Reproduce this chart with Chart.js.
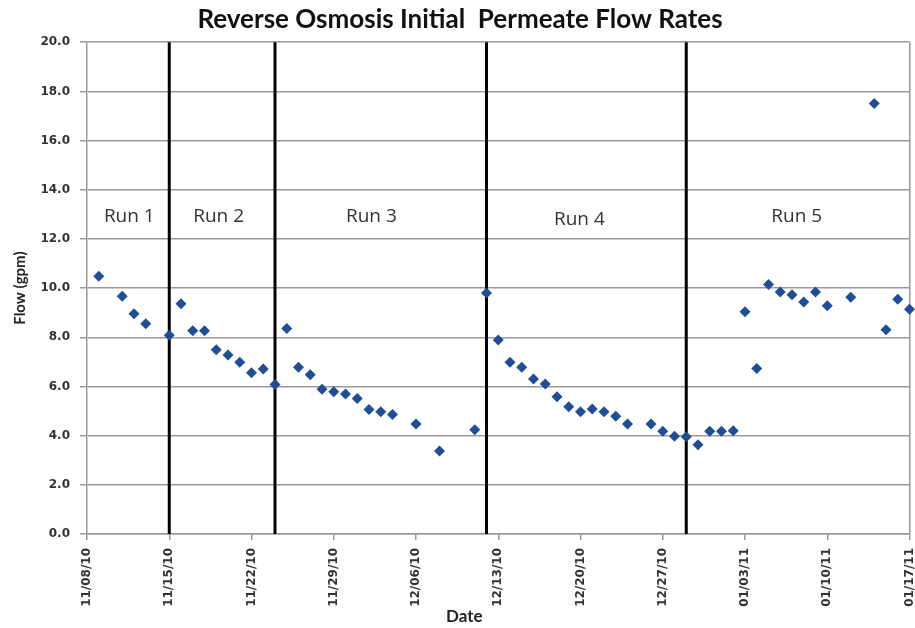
<!DOCTYPE html>
<html>
<head>
<meta charset="utf-8">
<script src="https://cdn.jsdelivr.net/npm/chart.js@4/dist/chart.umd.min.js"></script>
<style>
  html, body { margin: 0; padding: 0; background: #fff; }
  #wrap { width: 915px; height: 628px; position: relative; }
</style>
</head>
<body>
<div id="wrap"><canvas id="flowChart"></canvas></div>
<script>
// meetdatums (mm/dd/yy) en de bijbehorende flow in gpm
const sampleDates = [
  '11/09/10', '11/11/10', '11/12/10', '11/13/10', '11/15/10', '11/16/10', '11/17/10', '11/18/10',
  '11/19/10', '11/20/10', '11/21/10', '11/22/10', '11/23/10', '11/24/10', '11/25/10', '11/26/10',
  '11/27/10', '11/28/10', '11/29/10', '11/30/10', '12/01/10', '12/02/10', '12/03/10', '12/04/10',
  '12/06/10', '12/08/10', '12/11/10', '12/12/10', '12/13/10', '12/14/10', '12/15/10', '12/16/10',
  '12/17/10', '12/18/10', '12/19/10', '12/20/10', '12/21/10', '12/22/10', '12/23/10', '12/24/10',
  '12/26/10', '12/27/10', '12/28/10', '12/29/10', '12/30/10', '12/31/10', '01/01/11', '01/02/11',
  '01/03/11', '01/04/11', '01/05/11', '01/06/11', '01/07/11', '01/08/11', '01/09/11', '01/10/11',
  '01/12/11', '01/14/11', '01/15/11', '01/16/11', '01/17/11'
];
const flowValues = [
  10.48, 9.67, 8.96, 8.55, 8.08, 9.36, 8.27, 8.27,
  7.49, 7.28, 6.98, 6.56, 6.71, 6.08, 8.36, 6.78,
  6.48, 5.89, 5.78, 5.69, 5.51, 5.06, 4.97, 4.86,
  4.47, 3.38, 4.24, 9.80, 7.89, 6.98, 6.78, 6.30,
  6.10, 5.58, 5.17, 4.97, 5.08, 4.97, 4.79, 4.47,
  4.47, 4.18, 3.98, 3.95, 3.63, 4.18, 4.18, 4.20,
  9.04, 6.73, 10.15, 9.84, 9.73, 9.43, 9.84, 9.28,
  9.63, 17.51, 8.31, 9.55, 9.14
];

// de as-labels en de grenzen tussen de runs
const tickLabels = ['11/08/10', '11/15/10', '11/22/10', '11/29/10', '12/06/10', '12/13/10',
  '12/20/10', '12/27/10', '01/03/11', '01/10/11', '01/17/11'];
const runBoundaryDates = ['11/15/10', '11/24/10', '12/12/10', '12/29/10'];
const runNames = ['Run 1', 'Run 2', 'Run 3', 'Run 4', 'Run 5'];
const runLabelDays = [3.6, 11.2, 24.2, 41.9, 60.4];
const runLabelFlow = [12.9, 12.9, 12.9, 12.8, 12.9];
const yTicks = [0, 2, 4, 6, 8, 10, 12, 14, 16, 18, 20];

// Zet een datum om naar het aantal dagen sinds de eerste as-label
function dayNumber(str) {
  const p = str.split('/');
  const t = Date.UTC(2000 + Number(p[2]), Number(p[0]) - 1, Number(p[1]));
  const p0 = tickLabels[0].split('/');
  const t0 = Date.UTC(2000 + Number(p0[2]), Number(p0[0]) - 1, Number(p0[1]));
  return Math.round((t - t0) / 86400000);
}

const points = sampleDates.map((d, i) => ({ x: dayNumber(d), y: flowValues[i] }));

// Verticale zwarte lijnen tussen de runs
const boundarySets = runBoundaryDates.map(d => ({
  type: 'line',
  data: [{ x: dayNumber(d), y: yTicks[0] }, { x: dayNumber(d), y: yTicks[yTicks.length - 1] }],
  borderColor: '#000',
  borderWidth: 3,
  pointRadius: 0,
  clip: false
}));

// Plugin dat de run-namen en de titel van de x-as tekent
const runLabelPlugin = {
  id: 'runLabels',
  afterDatasetsDraw(chart) {
    const c = chart.ctx;
    const xs = chart.scales.x, ys = chart.scales.y;
    c.save();
    c.font = '19px "Open Sans", sans-serif';
    c.fillStyle = '#333';
    c.textAlign = 'center';
    c.textBaseline = 'middle';
    runNames.forEach((name, i) => {
      c.fillText(name, xs.getPixelForValue(runLabelDays[i]), ys.getPixelForValue(runLabelFlow[i]));
    });
    // x-as titel staat in het origineel iets links van het midden
    c.font = 'bold 17px Lato, sans-serif';
    c.fillStyle = '#222';
    const area = chart.chartArea;
    c.fillText('Date', (area.left + area.right) / 2 - 34, chart.height - 11);
    c.restore();
  }
};

const ctx = document.getElementById('flowChart');

new Chart(ctx, {
  data: {
    datasets: [{
      type: 'scatter',
      label: 'Flow',
      data: points,
      pointStyle: 'rectRot',
      pointRadius: 5.5,
      pointHoverRadius: 5.5,
      backgroundColor: '#1F4E96',
      borderColor: '#1F4E96',
      borderWidth: 0,
      clip: false
    }, ...boundarySets]
  },
  options: {
    responsive: true,
    maintainAspectRatio: false,
    animation: false,
    layout: { padding: { left: 8, right: 3, top: 0, bottom: 2 } },
    plugins: {
      legend: { display: false },
      tooltip: { enabled: false },
      title: {
        display: true,
        text: 'Reverse Osmosis Initial  Permeate Flow Rates',
        color: '#111',
        font: { family: 'Lato', size: 26, weight: 'bold' },
        padding: { top: 4, bottom: 7 }
      }
    },
    scales: {
      x: {
        type: 'linear',
        min: 0,
        max: 70,
        afterBuildTicks(axis) {
          axis.ticks = tickLabels.map(l => ({ value: dayNumber(l) }));
        },
        afterFit(axis) {
          axis.height = 92;
          axis.paddingLeft = 0;
          axis.paddingRight = 0;
        },
        ticks: {
          autoSkip: false,
          maxRotation: 90,
          minRotation: 90,
          padding: 8,
          color: '#333',
          font: { family: 'DejaVu Sans', size: 12, weight: 'bold' },
          callback: (v, i) => tickLabels[i]
        },
        grid: {
          color: c => (c.tick && c.tick.value === 70 ? '#999' : 'rgba(0,0,0,0)'),
          tickColor: '#999',
          tickLength: 6,
          lineWidth: 1.5
        },
        border: { color: '#999', width: 1.5 }
      },
      y: {
        min: 0,
        max: 20,
        afterBuildTicks(axis) {
          axis.ticks = yTicks.map(v => ({ value: v }));
        },
        afterFit(axis) {
          axis.width = 79;
          axis.paddingTop = 0;
          axis.paddingBottom = 0;
        },
        ticks: {
          color: '#333',
          font: { family: 'DejaVu Sans', size: 12, weight: 'bold' },
          padding: 10,
          callback: v => v.toFixed(1)
        },
        grid: {
          color: '#999',
          tickColor: '#999',
          tickLength: 7,
          lineWidth: 1.5
        },
        border: { color: '#999', width: 1.5 },
        title: {
          display: true,
          text: 'Flow (gpm)',
          color: '#222',
          font: { family: 'Lato', size: 15, weight: 'bold' },
          padding: { top: 3, bottom: 0 }
        }
      }
    }
  },
  plugins: [runLabelPlugin]
});
</script>
</body>
</html>
